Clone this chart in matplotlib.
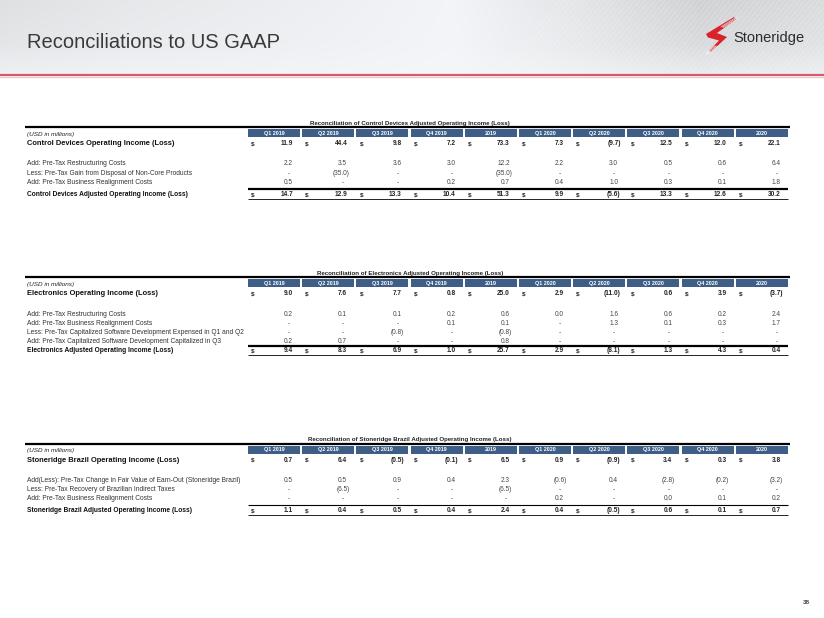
import numpy as np
import matplotlib.pyplot as plt
from matplotlib.patches import Rectangle, Polygon

plt.rcParams['font.family'] = ['Liberation Sans', 'DejaVu Sans']

W, H = 824, 618

# column headers shared by the three tables
COLUMNS = ['Q1 2019', 'Q2 2019', 'Q3 2019', 'Q4 2019', '2019',
           'Q1 2020', 'Q2 2020', 'Q3 2020', 'Q4 2020', '2020']

# Control Devices (None = dash)
cd_title = 'Reconciliation of Control Devices Adjusted Operating Income (Loss)'
cd_labels = ['Control Devices Operating Income (Loss)',
             'Add: Pre-Tax Restructuring Costs',
             'Less: Pre-Tax Gain from Disposal of Non-Core Products',
             'Add: Pre-Tax Business Realignment Costs',
             'Control Devices Adjusted Operating Income (Loss)']
cd_values = [[11.9, 44.4, 9.8, 7.2, 73.3, 7.3, -9.7, 12.5, 12.0, 22.1],
             [2.2, 3.5, 3.6, 3.0, 12.2, 2.2, 3.0, 0.5, 0.6, 6.4],
             [None, -35.0, None, None, -35.0, None, None, None, None, None],
             [0.5, None, None, 0.2, 0.7, 0.4, 1.0, 0.3, 0.1, 1.8],
             [14.7, 12.9, 13.3, 10.4, 51.3, 9.9, -5.6, 13.3, 12.6, 30.2]]

# Electronics
el_title = 'Reconciliation of Electronics Adjusted Operating Income (Loss)'
el_labels = ['Electronics Operating Income (Loss)',
             'Add: Pre-Tax Restructuring Costs',
             'Add: Pre-Tax Business Realignment Costs',
             'Less: Pre-Tax Capitalized Software Development Expensed in Q1 and Q2',
             'Add: Pre-Tax Capitalized Software Development Capitalized in Q3',
             'Electronics Adjusted Operating Income (Loss)']
el_values = [[9.0, 7.6, 7.7, 0.8, 25.0, 2.9, -11.0, 0.6, 3.9, -3.7],
             [0.2, 0.1, 0.1, 0.2, 0.6, 0.0, 1.6, 0.6, 0.2, 2.4],
             [None, None, None, 0.1, 0.1, None, 1.3, 0.1, 0.3, 1.7],
             [None, None, -0.8, None, -0.8, None, None, None, None, None],
             [0.2, 0.7, None, None, 0.8, None, None, None, None, None],
             [9.4, 8.3, 6.9, 1.0, 25.7, 2.9, -8.1, 1.3, 4.3, 0.4]]

# Stoneridge Brazil
br_title = 'Reconciliation of Stoneridge Brazil Adjusted Operating Income (Loss)'
br_labels = ['Stoneridge Brazil Operating Income (Loss)',
             'Add(Less): Pre-Tax Change in Fair Value of Earn-Out (Stoneridge Brazil)',
             'Less: Pre-Tax Recovery of Brazilian Indirect Taxes',
             'Add: Pre-Tax Business Realignment Costs',
             'Stoneridge Brazil Adjusted Operating Income (Loss)']
br_values = [[0.7, 6.4, -0.5, -0.1, 6.5, 0.9, -0.9, 3.4, 0.3, 3.8],
             [0.5, 0.5, 0.9, 0.4, 2.3, -0.6, 0.4, -2.8, -0.2, -3.2],
             [None, -6.5, None, None, -6.5, None, None, None, None, None],
             [None, None, None, None, None, 0.2, None, 0.0, 0.1, 0.2],
             [1.1, 0.4, 0.5, 0.4, 2.4, 0.4, -0.5, 0.6, 0.1, 0.7]]

HEAD_BLUE = '#3f5e87'
LOGO_RED = '#d8232a'
LABEL_X = 27
COL_X0, COL_STEP, COL_W = 248, 54.2, 52


def fmt(v):
    if v is None:
        return '-'
    if v < 0:
        return '(%.1f)' % abs(v)
    return '%.1f' % v


def draw_table(ax, line_y, title, labels, values, row_ys, above_lw):
    ax.text(410, line_y - 2.5, title, ha='center', va='baseline', fontsize=4.4,
            fontweight='bold', color='#222')
    ax.plot([25, 790], [line_y, line_y], color='black', lw=1.6,
            solid_capstyle='butt')
    for i, col in enumerate(COLUMNS):
        left = COL_X0 + i * COL_STEP
        ax.add_patch(Rectangle((left, line_y + 2), COL_W, 8, color=HEAD_BLUE, lw=0))
        ax.text(left + COL_W / 2, line_y + 7.8, col, ha='center', va='baseline',
                fontsize=3.9, fontweight='bold', color='white')
    ax.text(LABEL_X, line_y + 8.8, '(USD in millions)', ha='left', va='baseline',
            fontsize=4.6, style='italic', color='#222')

    last = len(labels) - 1
    for r, (lab, vals, y) in enumerate(zip(labels, values, row_ys)):
        bold = r in (0, last)
        weight = 'bold' if bold else 'normal'
        size = 5.4 if r == 0 else 4.8
        ax.text(LABEL_X, y + 2.4, lab, ha='left', va='baseline', fontsize=size,
                fontweight=weight, color='#111' if bold else '#333')
        for i, v in enumerate(vals):
            left = COL_X0 + i * COL_STEP
            x_r = left + COL_W - 7
            if bold:
                ax.text(left + 3, y + 2.3, '$', ha='left', va='baseline',
                        fontsize=4.6, fontweight='bold', color='#222')
            if v is None:
                x = x_r - 3
            elif v < 0:
                x = x_r + 2.5
            else:
                x = x_r
            ax.text(x, y + 2.3, fmt(v), ha='right', va='baseline', fontsize=4.7,
                    fontweight=weight, color='#222' if bold else '#444')

    # rules around the final row
    y_prev, y_fin = row_ys[-2], row_ys[-1]
    x0, x1 = COL_X0, COL_X0 + 9 * COL_STEP + COL_W
    ya = (y_prev + y_fin) / 2 + 1
    ax.plot([x0, x1], [ya, ya], color='black', lw=above_lw, solid_capstyle='butt')
    yb = y_fin + 5
    ax.plot([x0, x1], [yb, yb], color='black', lw=0.6, solid_capstyle='butt')


fig = plt.figure(figsize=(W / 100, H / 100), dpi=100)
ax = fig.add_axes([0, 0, 1, 1])

# header band
xs = np.linspace(0, 1, 412)
ys = np.linspace(0, 1, 75)
base = np.interp(xs, [0, 0.15, 0.4, 0.55, 0.7, 0.85, 1.0],
                 [0.88, 0.91, 0.94, 0.96, 0.90, 0.82, 0.86])
fade = np.interp(ys, [0, 0.6, 1.0], [0.0, 0.25, 0.7])
band = base[None, :] * (1 - fade[:, None]) + 0.97 * fade[:, None]
rgb = np.dstack([band * 0.99, band, band * 1.01]).clip(0, 1)
ax.imshow(rgb, extent=(0, W, 75, 0), aspect='auto', zorder=0)
for k in np.arange(560, 900, 5):
    ax.plot([k, k - 60], [0, 75], color='white', lw=0.4, alpha=0.35, zorder=1)
ax.set_xlim(0, W)
ax.set_ylim(H, 0)
ax.axis('off')
ax.plot([0, W], [75, 75], color='#d65a6c', lw=1.6, zorder=2)
ax.plot([0, W], [77, 77], color='#f0c8cf', lw=1.0, zorder=2)

ax.text(27, 43, 'Reconciliations to US GAAP', ha='left', va='center',
        fontsize=14.5, color='#3a3a3a', zorder=3)

# logo: red bolt-shaped S, white cuts at the ends give the streaks
ax.add_patch(Polygon([(706, 34), (734, 17), (736, 19.5), (717, 33), (727, 37),
                      (711, 52), (709, 50.5), (719, 40.5), (708, 37.5)],
                     closed=True, color=LOGO_RED, lw=0, zorder=3))
for d in (-1.0, 0.3, 1.6):
    ax.plot([722 + d, 738 + d], [27 + d * 0.3, 17 + d * 0.3], color='#e4e6e8',
            lw=0.45, zorder=4)
    ax.plot([716 + d, 706 + d], [46 + d * 0.3, 54 + d * 0.3], color='#f0f0f0',
            lw=0.45, zorder=4)
ax.text(733, 38, 'Stoneridge', ha='left', va='center', fontsize=10.5,
        color='#2b2b2b', zorder=3)

draw_table(ax, 127, cd_title, cd_labels, cd_values,
           [143, 163, 172.5, 182, 194], 1.6)
draw_table(ax, 277, el_title, el_labels, el_values,
           [293, 313.5, 322.5, 331.5, 340.5, 350], 1.6)
draw_table(ax, 443.5, br_title, br_labels, br_values,
           [459.5, 479.5, 488.5, 497.5, 510], 0.8)

ax.text(806, 603, '38', ha='center', va='center', fontsize=4.5,
        fontweight='bold', color='#444')

fig.savefig('out.png', dpi=100)
